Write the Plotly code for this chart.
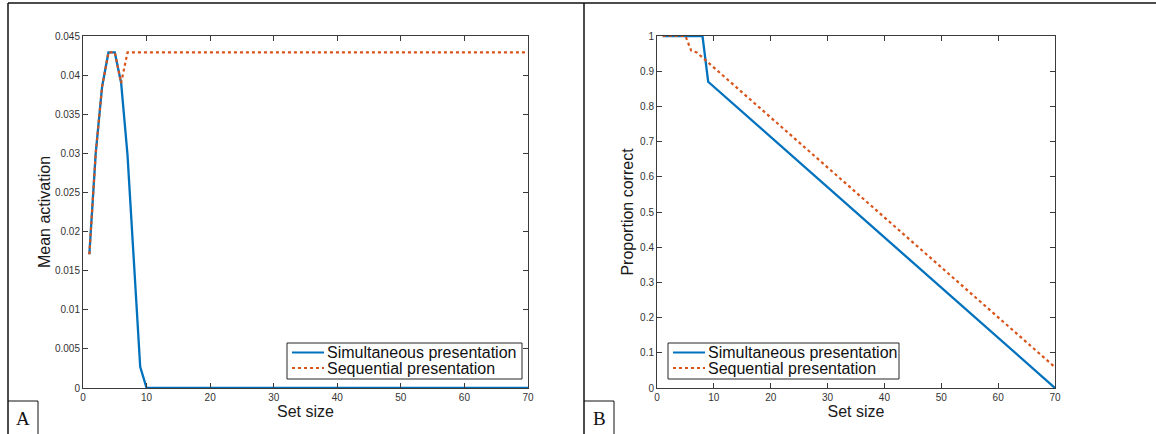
import plotly.graph_objects as go

# ---- data ----
# Panel A: mean activation vs set size
a_sim_x = [1, 2, 3, 4, 5, 6, 7, 8, 9, 10, 70]
a_sim_y = [0.0171, 0.0300, 0.0385, 0.0429, 0.0429, 0.0390, 0.0298, 0.0160, 0.0027, 0.0, 0.0]
a_seq_x = [1, 2, 3, 4, 5, 6, 7, 70]
a_seq_y = [0.0171, 0.0300, 0.0385, 0.0429, 0.0429, 0.0390, 0.0429, 0.0429]

# Panel B: proportion correct vs set size
b_sim_x = [1, 8, 9, 70]
b_sim_y = [1.0, 1.0, 0.870, 0.0]
b_seq_x = [1, 5, 6, 7, 70]
b_seq_y = [1.0, 1.0, 0.959, 0.953, 0.059]

x_ticks = [0, 10, 20, 30, 40, 50, 60, 70]
a_y_ticks = [0, 0.005, 0.01, 0.015, 0.02, 0.025, 0.03, 0.035, 0.04, 0.045]
a_y_labels = ["0", "0.005", "0.01", "0.015", "0.02", "0.025", "0.03", "0.035", "0.04", "0.045"]
b_y_ticks = [0, 0.1, 0.2, 0.3, 0.4, 0.5, 0.6, 0.7, 0.8, 0.9, 1]
b_y_labels = ["0", "0.1", "0.2", "0.3", "0.4", "0.5", "0.6", "0.7", "0.8", "0.9", "1"]

names = ["Simultaneous presentation", "Sequential presentation"]
BLUE = "#0072BD"
ORANGE = "#D95319"

W, H = 1156, 434
def px(x):
    return x / W
def py(y):
    return 1 - y / H

fig = go.Figure()

fig.add_trace(go.Scatter(x=a_sim_x, y=a_sim_y, mode="lines", name=names[0],
                         line=dict(color=BLUE, width=2.3), xaxis="x", yaxis="y"))
fig.add_trace(go.Scatter(x=a_seq_x, y=a_seq_y, mode="lines", name=names[1],
                         line=dict(color=ORANGE, width=2.2, dash="dot"), xaxis="x", yaxis="y"))
fig.add_trace(go.Scatter(x=b_sim_x, y=b_sim_y, mode="lines", name=names[0],
                         line=dict(color=BLUE, width=2.3), xaxis="x2", yaxis="y2"))
fig.add_trace(go.Scatter(x=b_seq_x, y=b_seq_y, mode="lines", name=names[1],
                         line=dict(color=ORANGE, width=2.2, dash="dot"), xaxis="x2", yaxis="y2"))

AX = "#3a3a3a"
FONT = "Liberation Sans, Arial, sans-serif"
tickfont = dict(family=FONT, size=10, color="#333333")
titlefont = dict(family=FONT, size=16, color="#1a1a1a")

common_x = dict(range=[0, 70], tickvals=x_ticks, ticks="inside", ticklen=5, tickcolor=AX,
                showline=True, linecolor=AX, linewidth=1, mirror="ticks", showgrid=False,
                zeroline=False, tickfont=tickfont, automargin=False,
                title=dict(text="Set size", font=titlefont, standoff=0))
common_y = dict(ticks="inside", ticklen=5, tickcolor=AX, showline=True, linecolor=AX, linewidth=1,
                mirror="ticks", showgrid=False, zeroline=False, tickfont=tickfont, automargin=False)

fig.update_layout(
    width=W, height=H,
    margin=dict(l=0, r=0, t=0, b=0, autoexpand=False),
    paper_bgcolor="white", plot_bgcolor="white",
    showlegend=False,
    xaxis=dict(domain=[px(83), px(528)], anchor="y", **common_x),
    yaxis=dict(domain=[py(388), py(36)], anchor="x", range=[0, 0.045], tickvals=a_y_ticks,
               ticktext=a_y_labels, title=dict(text="Mean activation", font=titlefont, standoff=0), **common_y),
    xaxis2=dict(domain=[px(657), px(1055)], anchor="y2", **common_x),
    yaxis2=dict(domain=[py(388), py(36)], anchor="x2", range=[0, 1], tickvals=b_y_ticks,
                ticktext=b_y_labels, title=dict(text="Proportion correct", font=titlefont, standoff=2), **common_y),
)

# outer frame lines (table-like border of the composite figure)
frame = "#111111"
shapes = [
    dict(type="line", xref="paper", yref="paper", x0=px(8), x1=1, y0=py(3), y1=py(3), line=dict(color=frame, width=1.5)),
    dict(type="line", xref="paper", yref="paper", x0=px(8), x1=px(8), y0=py(3), y1=0, line=dict(color=frame, width=1.5)),
    dict(type="line", xref="paper", yref="paper", x0=px(584), x1=px(584), y0=py(3), y1=0, line=dict(color=frame, width=1.5)),
    dict(type="line", xref="paper", yref="paper", x0=px(8), x1=px(38), y0=py(401), y1=py(401), line=dict(color=frame, width=1)),
    dict(type="line", xref="paper", yref="paper", x0=px(38), x1=px(38), y0=py(401), y1=0, line=dict(color=frame, width=1)),
    dict(type="line", xref="paper", yref="paper", x0=px(584), x1=px(614), y0=py(401), y1=py(401), line=dict(color=frame, width=1)),
    dict(type="line", xref="paper", yref="paper", x0=px(614), x1=px(614), y0=py(401), y1=0, line=dict(color=frame, width=1)),
]

# legends (box, line samples, labels) for each panel
legend_boxes = [(287, 522), (668, 899)]
row_y = [352.5, 368]
for (lx0, lx1) in legend_boxes:
    shapes.append(dict(type="rect", xref="paper", yref="paper", layer="above",
                       x0=px(lx0), x1=px(lx1), y0=py(379), y1=py(343),
                       fillcolor="white", line=dict(color="#262626", width=1)))
    shapes.append(dict(type="line", xref="paper", yref="paper", layer="above",
                       x0=px(lx0 + 5), x1=px(lx0 + 37), y0=py(row_y[0]), y1=py(row_y[0]),
                       line=dict(color=BLUE, width=2)))
    shapes.append(dict(type="line", xref="paper", yref="paper", layer="above",
                       x0=px(lx0 + 5), x1=px(lx0 + 37), y0=py(row_y[1]), y1=py(row_y[1]),
                       line=dict(color=ORANGE, width=2, dash="dot")))
    for name, ry in zip(names, row_y):
        fig.add_annotation(text=name, xref="paper", yref="paper", x=px(lx0 + 38), y=py(ry),
                           showarrow=False, xanchor="left", yanchor="middle",
                           font=dict(family=FONT, size=16, color="#111111"))

fig.update_layout(shapes=shapes)

labfont = dict(family="Liberation Serif, Times New Roman, serif", size=19, color="#111111")
fig.add_annotation(text="A", xref="paper", yref="paper", x=px(23), y=py(418), showarrow=False,
                   xanchor="center", yanchor="middle", font=labfont)
fig.add_annotation(text="B", xref="paper", yref="paper", x=px(599), y=py(418), showarrow=False,
                   xanchor="center", yanchor="middle", font=labfont)

fig.write_html("out.html", config={"displayModeBar": False},
               post_script="document.body.style.margin='0px';")
